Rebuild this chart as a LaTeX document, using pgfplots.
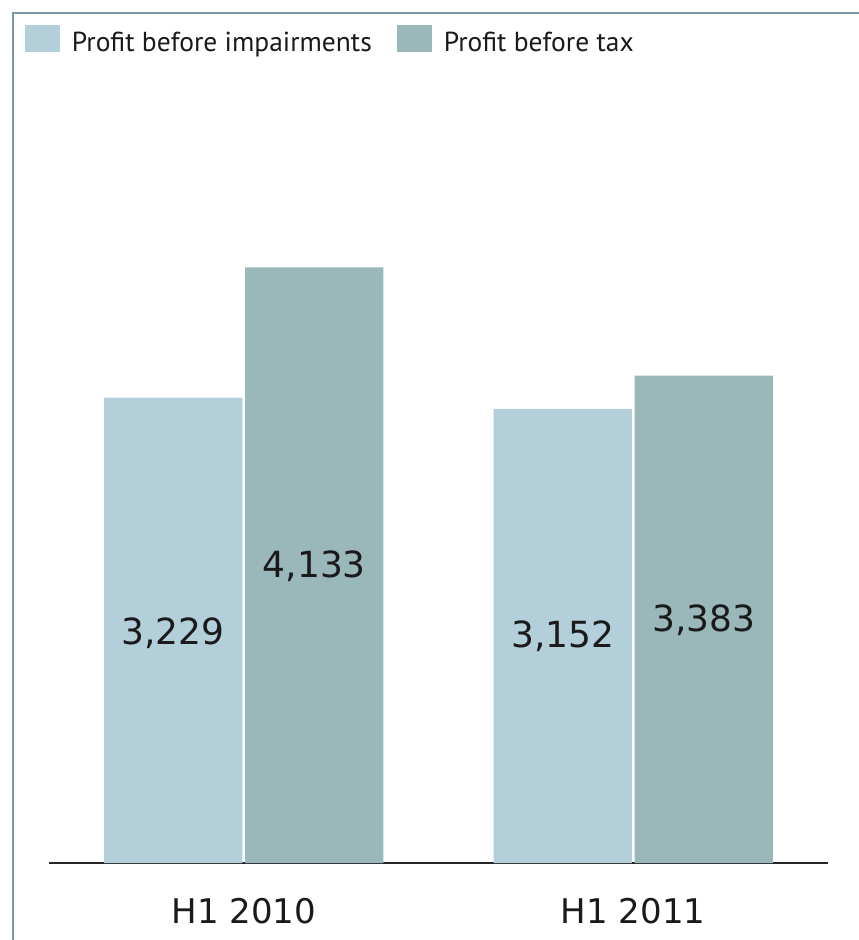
\documentclass[border=0pt]{standalone}
\usepackage{pgfplots}
\pgfplotsset{compat=1.18}
\usepackage{fontspec}
\setmainfont{DejaVu Sans}
\newfontfamily\legfont{PT Sans}
\definecolor{lightbar}{HTML}{B3CFDA}
\definecolor{darkbar}{HTML}{9AB7BA}
\definecolor{framec}{HTML}{7A96A0}
\definecolor{txt}{HTML}{1A1A1A}
\begin{document}
\begin{tikzpicture}
\useasboundingbox (0,0) rectangle (859bp,940bp);
\draw[color=framec, line width=2bp] (13bp,0) -- (13bp,927bp) -- (860bp,927bp);
\begin{axis}[
  at={(49bp,77bp)}, anchor=south west,
  scale only axis,
  width=779bp, height=792.5bp,
  xmin=-0.5, xmax=1.5,
  ymin=0, ymax=5500,
  axis x line=bottom,
  axis y line=none,
  x axis line style={-, line width=2bp, color=black!85},
  xtick={0,1},
  xticklabels={H1 2010, H1 2011},
  major tick length=0pt,
  xticklabel style={anchor=base, yshift=-60bp, font=\fontsize{34bp}{40bp}\selectfont, text=txt},
  ybar, bar width=0.3548,
  legend columns=2,
  legend style={at={(-0.0308,1.0574)}, anchor=north west, draw=none, fill=none,
    font=\legfont\fontsize{27.5bp}{32bp}\selectfont, text=txt,
    inner sep=0pt, outer sep=0pt,
    nodes={inner sep=0pt},
    /tikz/every odd column/.append style={column sep=12bp},
    /tikz/every even column/.append style={column sep=25bp}},
  legend image code/.code={\fill[#1] (0bp,-9.5bp) rectangle (35bp,17.5bp);},
  clip=false,
]
\addplot[fill=lightbar, draw=none, bar shift=-0.1812] coordinates {(0,3229) (1,3152)};
\addlegendentry{Profit before impairments}
\addplot[fill=darkbar, draw=none, bar shift=0.1812] coordinates {(0,4133) (1,3383)};
\addlegendentry{Profit before tax}
\begin{scope}[every node/.style={anchor=base, text=txt, font=\fontsize{36bp}{42bp}\selectfont}]
\node at (axis cs:-0.1812,1513) {3,229};
\node at (axis cs:0.1812,1978) {4,133};
\node at (axis cs:0.8188,1499) {3,152};
\node at (axis cs:1.1812,1610) {3,383};
\end{scope}
\end{axis}
\end{tikzpicture}
\end{document}
